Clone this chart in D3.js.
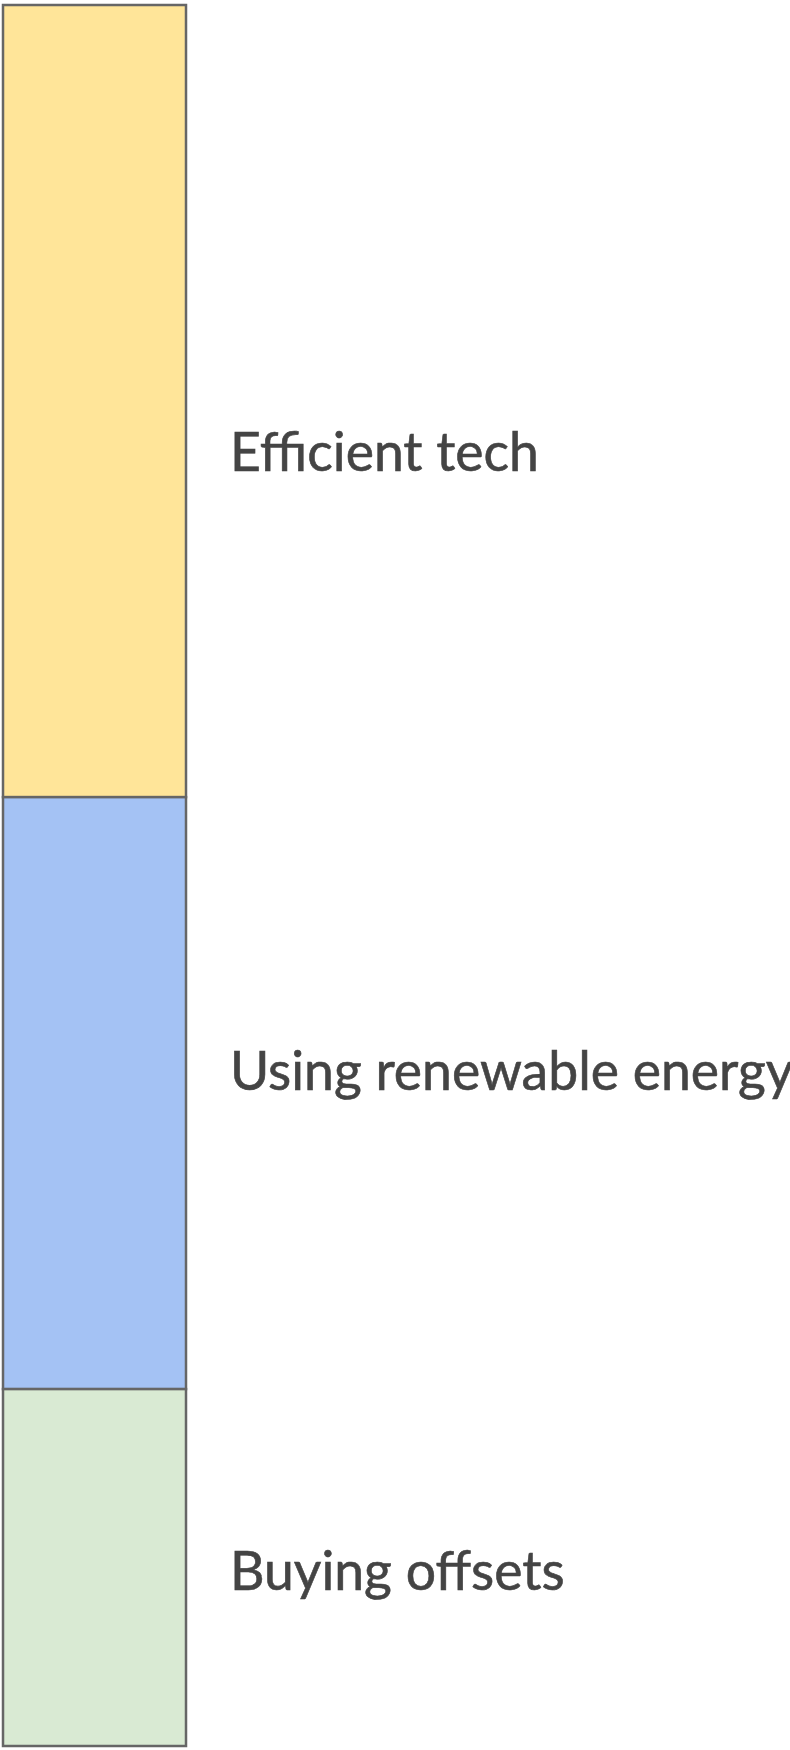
<!DOCTYPE html>
<html>
<head>
<meta charset="utf-8">
<script src="https://cdn.jsdelivr.net/npm/d3@7"></script>
<style>
  body { margin: 0; background: #fff; }
  text { font-family: Lato, "Open Sans", sans-serif; }
</style>
</head>
<body>
<script>
// one stacked bar, top to bottom
const categories = ["Efficient tech", "Using renewable energy", "Buying offsets"];
const values = [45.5, 34, 20.5];
const colors = ["#ffe599", "#a4c2f4", "#d9ead3"];

const width = 790, height = 1750;
const margin = {top: 5, bottom: 4, left: 3};
const barWidth = 183;

const svg = d3.select("body").append("svg")
  .attr("width", width)
  .attr("height", height);

const stacked = [];
let acc = 0;
values.forEach((v, i) => { stacked.push({name: categories[i], y0: acc, y1: acc + v, color: colors[i]}); acc += v; });

const y = d3.scaleLinear()
  .domain([0, d3.sum(values)])
  .range([margin.top, height - margin.bottom]);

svg.selectAll("rect.seg")
  .data(stacked)
  .enter().append("rect")
    .attr("class", "seg")
    .attr("x", margin.left)
    .attr("y", d => y(d.y0))
    .attr("width", barWidth)
    .attr("height", d => y(d.y1) - y(d.y0))
    .attr("fill", d => d.color)
    .attr("stroke", "#666")
    .attr("stroke-width", 2.5);

// labels sit a little off the segment centres in the original
const nudge = [51, -22, 4];
svg.selectAll("text.lbl")
  .data(stacked)
  .enter().append("text")
    .attr("class", "lbl")
    .attr("x", 230)
    .attr("y", (d, i) => (y(d.y0) + y(d.y1)) / 2 + nudge[i])
    .attr("dy", "0.35em")
    .attr("fill", "#444")
    .attr("stroke", "#444")
    .attr("stroke-width", 0.6)
    .style("font-size", "53.5px")
    .text(d => d.name);
</script>
</body>
</html>
